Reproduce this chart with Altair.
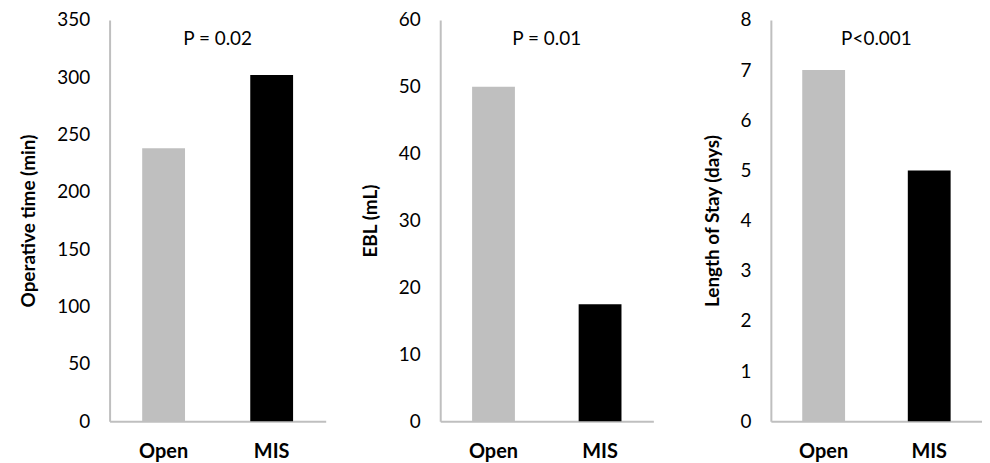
import altair as alt
import pandas as pd

groups = ["Open", "MIS"]
op_time = [238, 302]
ebl = [50, 17.5]
los = [7, 5]

titles = ["Operative time (min)", "EBL (mL)", "Length of Stay (days)"]
p_labels = ["P = 0.02", "P = 0.01", "P<0.001"]
y_max = [350, 60, 8]
y_step = [50, 10, 1]
widths = [217, 214, 212]
series = [op_time, ebl, los]

FONT = "Lato"
H = 403


def panel(vals, title, plabel, ymax, ystep, w):
    df = pd.DataFrame({"group": groups, "value": vals})
    bars = alt.Chart(df).mark_bar(size=43).encode(
        x=alt.X("group:N", sort=groups, title=None,
                scale=alt.Scale(paddingInner=0.6, paddingOuter=0.3),
                axis=alt.Axis(labelAngle=0, labelFontWeight="bold", labelFontSize=20,
                              labelPadding=20, labelColor="#000000")),
        y=alt.Y("value:Q", title=title,
                scale=alt.Scale(domain=[0, ymax], nice=False),
                axis=alt.Axis(values=list(range(0, ymax + 1, ystep)), labelFontSize=19,
                              labelPadding=20, titleFontSize=19, titleFontWeight="bold",
                              titlePadding=18, labelColor="#000000", titleColor="#000000")),
        color=alt.Color("group:N", scale=alt.Scale(domain=groups, range=["#bfbfbf", "#000000"]),
                        legend=None),
    )
    txt = alt.Chart(pd.DataFrame({"p": [plabel]})).mark_text(
        fontSize=19, font=FONT, color="#000000", baseline="middle", align="center"
    ).encode(text="p:N", x=alt.value(w / 2), y=alt.value(19))
    return alt.layer(bars, txt).properties(width=w, height=H)


panels = [panel(series[i], titles[i], p_labels[i], y_max[i], y_step[i], widths[i]) for i in range(3)]

chart = alt.hconcat(alt.hconcat(panels[0], panels[1], spacing=35), panels[2], spacing=49).properties(
    padding={"left": 11, "top": 2, "right": 0, "bottom": 0}
).configure_view(stroke=None).configure_axis(
    domainColor="#bfbfbf", domainWidth=2, ticks=False, grid=False,
    labelFont=FONT, titleFont=FONT,
).configure_text(font=FONT)

chart.save("out.html", embed_options={"renderer": "svg", "actions": False})
